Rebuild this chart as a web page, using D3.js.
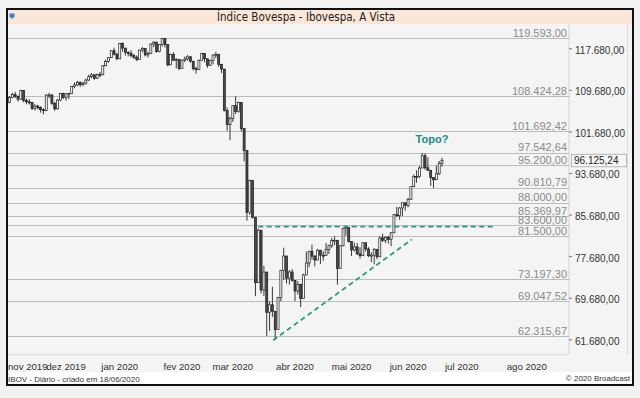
<!DOCTYPE html>
<html>
<head>
<meta charset="utf-8">
<script src="https://cdn.jsdelivr.net/npm/d3@7"></script>
<style>
body { margin: 0; background: #f2f2f2; }
svg { display: block; font-family: "Liberation Sans", Arial, sans-serif; }
</style>
</head>
<body>
<div id="chart"></div>
<script>
// daily candles, one array per month: [day, open, high, low, close] (thousand points)
var nov2019 = [
  [1, 107.22, 108.45, 107.10, 108.20], [4, 108.20, 109.10, 108.05, 108.78],
  [5, 108.78, 109.30, 108.15, 108.43], [6, 108.43, 108.60, 107.40, 107.88],
  [7, 107.88, 109.67, 107.85, 109.58], [8, 109.58, 109.60, 107.28, 107.63],
  [11, 107.63, 108.00, 106.90, 107.38], [12, 107.38, 107.90, 106.85, 107.22],
  [13, 107.22, 107.30, 105.80, 106.06], [14, 106.06, 106.90, 105.70, 106.56],
  [18, 106.56, 106.80, 105.90, 106.27], [19, 106.27, 106.50, 105.30, 105.86],
  [20, 105.86, 106.10, 104.95, 105.69], [21, 105.69, 108.80, 105.60, 108.69],
  [22, 108.69, 109.10, 108.10, 108.71], [25, 108.71, 108.75, 106.80, 107.06],
  [26, 107.06, 107.40, 105.60, 106.04], [27, 106.04, 107.90, 105.90, 107.71],
  [28, 107.71, 109.10, 107.50, 108.96], [29, 108.96, 109.10, 107.90, 108.23]
];
var dez2019 = [
  [2, 108.23, 109.00, 107.60, 108.93], [3, 108.93, 109.10, 107.90, 108.96],
  [4, 108.96, 110.40, 108.90, 110.30], [5, 110.30, 111.10, 110.00, 110.62],
  [6, 110.62, 111.40, 110.40, 111.13], [9, 111.13, 111.30, 110.20, 110.67],
  [10, 110.67, 111.20, 110.40, 110.97], [11, 110.97, 111.80, 110.70, 111.56],
  [12, 111.56, 112.60, 111.40, 112.20], [13, 112.20, 112.90, 111.90, 112.56],
  [16, 112.56, 112.70, 111.60, 111.90], [17, 111.90, 112.80, 111.80, 112.62],
  [18, 112.62, 113.10, 112.10, 112.57], [19, 112.57, 114.40, 112.50, 114.31],
  [20, 114.31, 115.50, 114.20, 115.13], [23, 115.13, 116.00, 114.90, 115.86],
  [26, 115.86, 117.30, 115.80, 117.20], [27, 117.20, 117.80, 116.30, 116.53],
  [30, 116.53, 116.80, 115.40, 115.65]
];
var jan2020 = [
  [2, 115.65, 118.70, 115.65, 118.57], [3, 118.57, 118.79, 117.00, 117.71],
  [6, 117.71, 117.75, 116.27, 116.88], [7, 116.88, 117.10, 116.10, 116.66],
  [8, 116.66, 117.30, 115.90, 116.25], [9, 116.25, 116.60, 115.60, 115.95],
  [10, 115.95, 116.30, 115.20, 115.50], [13, 115.50, 117.40, 115.50, 117.33],
  [14, 117.33, 117.90, 116.90, 117.63], [15, 117.63, 117.70, 116.10, 116.41],
  [16, 116.41, 117.00, 115.90, 116.67], [17, 116.67, 118.60, 116.60, 118.48],
  [20, 118.48, 119.00, 117.90, 118.86], [21, 118.86, 118.90, 116.80, 117.03],
  [22, 117.03, 118.50, 116.90, 118.39], [23, 118.39, 119.593, 118.00, 119.53],
  [24, 119.53, 119.55, 117.80, 118.38], [27, 118.38, 118.40, 114.20, 114.48],
  [28, 114.48, 116.60, 114.48, 116.48], [29, 116.48, 116.90, 115.20, 115.38],
  [30, 115.38, 115.80, 113.80, 115.53], [31, 115.53, 115.60, 113.50, 113.76]
];
var fev2020 = [
  [3, 113.76, 115.50, 113.70, 115.38], [4, 115.38, 116.10, 115.00, 115.62],
  [5, 115.62, 116.40, 115.30, 116.03], [6, 116.03, 116.20, 114.90, 115.19],
  [7, 115.19, 115.20, 113.40, 113.77], [10, 113.77, 114.10, 112.80, 113.56],
  [11, 113.56, 115.50, 113.50, 115.37], [12, 115.37, 116.80, 115.30, 116.67],
  [13, 116.67, 116.70, 115.00, 115.66], [14, 115.66, 115.70, 113.90, 114.38],
  [17, 114.38, 115.50, 114.30, 115.31], [18, 115.31, 116.50, 114.60, 116.38],
  [19, 116.38, 117.00, 115.80, 116.52], [20, 116.52, 116.55, 114.10, 114.59],
  [21, 114.59, 114.60, 112.90, 113.68], [26, 113.68, 113.70, 105.50, 105.72],
  [27, 105.72, 106.30, 101.80, 102.98], [28, 102.98, 104.50, 100.00, 104.17]
];
var mar2020 = [
  [2, 104.17, 106.70, 103.50, 106.63], [3, 106.63, 108.42, 105.00, 105.54],
  [4, 105.54, 107.40, 105.30, 107.22], [5, 107.22, 107.25, 101.69, 102.23],
  [6, 102.23, 102.30, 95.90, 97.99], [9, 97.99, 98.00, 84.50, 86.07],
  [10, 86.07, 92.40, 85.60, 92.21], [11, 92.21, 92.25, 84.90, 85.17],
  [12, 85.17, 85.20, 70.00, 72.58], [13, 72.58, 83.00, 72.58, 82.68],
  [16, 82.68, 82.70, 70.50, 71.17], [17, 71.17, 75.80, 70.00, 74.62],
  [18, 74.62, 74.65, 62.32, 66.89], [19, 66.89, 69.00, 63.30, 68.33],
  [20, 68.33, 71.80, 66.00, 67.07], [23, 67.07, 67.10, 61.69, 63.57],
  [24, 63.57, 69.80, 63.57, 69.73], [25, 69.73, 75.00, 69.00, 74.96],
  [26, 74.96, 79.30, 73.10, 77.71], [27, 77.71, 77.75, 72.40, 73.43],
  [30, 73.43, 75.00, 72.20, 74.64], [31, 74.64, 75.20, 72.80, 73.02]
];
var abr2020 = [
  [1, 73.02, 73.05, 69.05, 70.97], [2, 70.97, 72.90, 70.30, 72.25],
  [3, 72.25, 72.40, 67.90, 69.54], [6, 69.54, 74.30, 69.54, 74.07],
  [7, 74.07, 78.60, 74.07, 76.36], [8, 76.36, 78.70, 75.60, 78.62],
  [9, 78.62, 79.90, 77.00, 77.68], [13, 77.68, 77.90, 75.70, 76.94],
  [14, 76.94, 79.10, 76.90, 78.83], [15, 78.83, 78.85, 76.20, 77.87],
  [16, 77.87, 78.60, 76.80, 77.81], [17, 77.81, 80.20, 77.81, 78.99],
  [20, 78.99, 79.90, 78.10, 79.67], [22, 79.67, 81.20, 79.30, 80.69],
  [23, 80.69, 81.50, 79.80, 80.74], [24, 80.74, 80.75, 72.20, 75.33],
  [27, 75.33, 79.80, 75.30, 79.67], [28, 79.67, 83.10, 79.60, 83.02],
  [29, 83.02, 83.60, 81.60, 83.17], [30, 83.17, 83.20, 80.30, 80.51]
];
var mai2020 = [
  [4, 80.51, 80.55, 77.70, 78.88], [5, 78.88, 80.30, 78.60, 79.47],
  [6, 79.47, 80.20, 77.90, 78.12], [7, 78.12, 79.40, 77.20, 77.77],
  [8, 77.77, 80.40, 77.77, 80.26], [11, 80.26, 80.30, 78.60, 79.06],
  [12, 79.06, 79.40, 77.50, 77.77], [13, 77.77, 78.40, 76.50, 77.87],
  [14, 77.87, 79.20, 76.10, 79.01], [15, 79.01, 79.05, 77.10, 77.56],
  [18, 77.56, 81.50, 77.56, 81.19], [19, 81.19, 82.00, 80.40, 80.74],
  [20, 80.74, 81.50, 80.20, 81.32], [21, 81.32, 81.60, 80.10, 80.91],
  [22, 80.91, 82.30, 79.60, 82.17], [25, 82.17, 85.80, 82.17, 85.66],
  [26, 85.66, 87.20, 85.20, 85.47], [27, 85.47, 87.10, 84.70, 86.95],
  [28, 86.95, 88.00, 85.40, 87.95], [29, 87.95, 88.00, 86.40, 87.40]
];
var jun2020 = [
  [1, 87.40, 88.90, 87.10, 88.62], [2, 88.62, 91.10, 88.50, 91.05],
  [3, 91.05, 93.40, 91.05, 93.00], [4, 93.00, 94.20, 91.80, 92.99],
  [5, 92.99, 95.00, 92.70, 94.64], [8, 94.64, 97.54264, 94.64, 97.00],
  [9, 97.00, 97.45, 94.30, 94.69], [10, 94.69, 96.70, 94.10, 94.20],
  [12, 94.20, 94.25, 91.20, 92.80], [15, 92.80, 92.90, 90.81079, 92.38],
  [16, 92.38, 95.10, 92.38, 93.53], [17, 93.53, 96.00, 93.30, 95.55],
  [18, 95.55, 96.60, 94.90, 96.12524]
];

// x axis: month names and the trading-day index where each month starts
var monthLabels = ["nov 2019", "dez 2019", "jan 2020", "fev 2020", "mar 2020",
                   "abr 2020", "mai 2020", "jun 2020", "jul 2020", "ago 2020"];
var monthStartIdx = [0, 20, 39, 61, 79, 101, 121, 141, 160, 183];

// horizontal levels drawn on the chart
var levelValues = [119593.00, 108424.28, 101692.42, 97542.64, 95200.00, 90810.79,
                   88000.00, 85369.97, 83600.00, 81500.00, 73197.30, 69047.52, 62315.67];
// right axis
var axisTicks = [117680, 109680, 101680, 93680, 85680, 77680, 69680, 61680];
var lastClose = 96125.24;
// drawn annotations [trading-day index, value]
var resistanceLine = [[88, 83350], [171, 83350]];
var trendLine = [[93.3, 61500], [142.3, 80900]];

var svgWidth = 640;
var svgHeight = 398;
var plot = {left: 8, right: 569, top: 24, bottom: 354};

var br = d3.formatLocale({decimal: ",", thousands: ".", grouping: [3], currency: ["R$", ""]});
var fmt = br.format(",.2f");

// flatten months into one candle list
var candles = [];
[nov2019, dez2019, jan2020, fev2020, mar2020, abr2020, mai2020, jun2020].forEach(function(m) {
  m.forEach(function(r) {
    candles.push({day: r[0], open: r[1] * 1000, high: r[2] * 1000, low: r[3] * 1000, close: r[4] * 1000});
  });
});

var xScale = d3.scaleLinear().domain([0, candles.length - 1]).range([9.5, 442]);
var yScale = d3.scaleLinear().domain([58858, 122152]).range([plot.bottom, 25]);

var svg = d3.select("#chart").append("svg")
  .attr("width", svgWidth)
  .attr("height", svgHeight);

// frame + backgrounds
svg.append("rect").attr("x", 7).attr("y", 9).attr("width", 626).attr("height", 376)
  .attr("fill", "#f4f4f4");
svg.append("rect").attr("x", 8).attr("y", 372).attr("width", 624).attr("height", 12)
  .attr("fill", "#ffffff");
svg.append("rect").attr("x", 8).attr("y", 10).attr("width", 624).attr("height", 14)
  .attr("fill", "#fce6d8");
svg.append("path")
  .attr("d", "M9.5,13.5 L14.5,13.5 L14.5,16.5 L12,19 L9.5,16.5 Z")
  .attr("fill", "#3d7fd3");
svg.append("text")
  .attr("x", 306).attr("y", 21)
  .attr("text-anchor", "middle")
  .style("font-family", "'Liberation Sans Narrow', 'DejaVu Sans Condensed', sans-serif")
  .style("font-size", "11.5px")
  .attr("fill", "#222")
  .text("Índice Bovespa - Ibovespa, A Vista");

// separators
svg.append("line").attr("x1", plot.right).attr("x2", plot.right)
  .attr("y1", plot.top).attr("y2", plot.bottom)
  .attr("stroke", "#d4d4d4");
svg.append("line").attr("x1", plot.left).attr("x2", plot.right)
  .attr("y1", plot.bottom + 0.5).attr("y2", plot.bottom + 0.5)
  .attr("stroke", "#dcdcdc");
svg.append("line").attr("x1", 627.5).attr("x2", 627.5)
  .attr("y1", plot.top).attr("y2", plot.bottom)
  .attr("stroke", "#dcdcdc");

// level lines with labels
var levels = svg.append("g");
levels.selectAll("line")
  .data(levelValues)
  .enter()
  .append("line")
  .attr("x1", plot.left)
  .attr("x2", plot.right)
  .attr("y1", d => Math.round(yScale(d)) + 0.5)
  .attr("y2", d => Math.round(yScale(d)) + 0.5)
  .attr("stroke", "#bcbcbc");
levels.selectAll("text")
  .data(levelValues)
  .enter()
  .append("text")
  .attr("x", 567)
  .attr("y", d => yScale(d) - 1.5)
  .attr("text-anchor", "end")
  .style("font-size", "11px")
  .attr("fill", "#8a8a8a")
  .text(d => fmt(d));

// right axis
var rightAxis = d3.axisRight(yScale)
  .tickValues(axisTicks)
  .tickSize(3)
  .tickFormat(fmt);
var yAxis = svg.append("g")
  .attr("transform", `translate(${plot.right}, 0)`)
  .call(rightAxis);
yAxis.select(".domain").remove();
yAxis.selectAll("line").attr("stroke", "#777");
yAxis.selectAll("text")
  .attr("x", 6)
  .attr("dy", "0.5em")
  .style("font-family", "'Liberation Sans', Arial, sans-serif")
  .style("font-size", "10px")
  .attr("fill", "#333");

// last close box
var yLast = yScale(lastClose);
svg.append("rect")
  .attr("x", 571.5).attr("y", yLast - 6)
  .attr("width", 55).attr("height", 12.5)
  .attr("fill", "#f6f6f6")
  .attr("stroke", "#a8a8a8")
  .attr("stroke-width", 0.8);
svg.append("text")
  .attr("x", 574).attr("y", yLast + 4)
  .style("font-size", "10px")
  .attr("fill", "#222")
  .text(fmt(lastClose));

// candles
var candleGroup = svg.append("g");
candleGroup.selectAll(".wick")
  .data(candles)
  .enter()
  .append("line")
  .attr("class", "wick")
  .attr("x1", (d, i) => xScale(i))
  .attr("x2", (d, i) => xScale(i))
  .attr("y1", d => yScale(d.high))
  .attr("y2", d => yScale(d.low))
  .attr("stroke", "#222")
  .attr("stroke-width", 0.9);
candleGroup.selectAll(".body")
  .data(candles)
  .enter()
  .append("rect")
  .attr("class", "body")
  .attr("x", (d, i) => xScale(i) - 1)
  .attr("width", 2)
  .attr("y", d => yScale(Math.max(d.open, d.close)))
  .attr("height", d => Math.max(1, Math.abs(yScale(d.open) - yScale(d.close))))
  .attr("fill", d => d.close >= d.open ? "#ffffff" : "#4a4a4a")
  .attr("stroke", "#1c1c1c")
  .attr("stroke-width", 0.7);

// dashed annotations
var lineGen = d3.line().x(d => xScale(d[0])).y(d => yScale(d[1]));
[resistanceLine, trendLine].forEach(function(pts) {
  svg.append("path")
    .attr("d", lineGen(pts))
    .attr("fill", "none")
    .attr("stroke", "#2f9a84")
    .attr("stroke-width", 1.8)
    .attr("stroke-dasharray", "5,3.5");
});

svg.append("text")
  .attr("x", 432).attr("y", 143)
  .attr("text-anchor", "middle")
  .style("font-size", "11px")
  .style("font-weight", "bold")
  .attr("fill", "#22898a")
  .text("Topo?");

// month labels on the x axis
var xLabels = svg.append("g");
monthLabels.forEach(function(label, k) {
  var t = xLabels.append("text")
    .attr("y", 370)
    .style("font-size", "9.6px")
    .attr("fill", "#333")
    .text(label);
  var cx = xScale(monthStartIdx[k]);
  var w = t.node().getComputedTextLength();
  if (cx - w / 2 < plot.left) {
    t.attr("x", plot.left);
  } else {
    t.attr("x", cx).attr("text-anchor", "middle");
  }
});

// footer
svg.append("text")
  .attr("x", 8).attr("y", 382)
  .style("font-size", "8px")
  .attr("fill", "#333")
  .text("IBOV - Diário - criado em 18/06/2020");
svg.append("text")
  .attr("x", 630).attr("y", 381)
  .attr("text-anchor", "end")
  .style("font-size", "8px")
  .attr("fill", "#333")
  .text("© 2020 Broadcast");

// outer border
svg.append("rect").attr("x", 7).attr("y", 9).attr("width", 626).attr("height", 376)
  .attr("fill", "none")
  .attr("stroke", "#111")
  .attr("stroke-width", 2);
</script>
</body>
</html>
